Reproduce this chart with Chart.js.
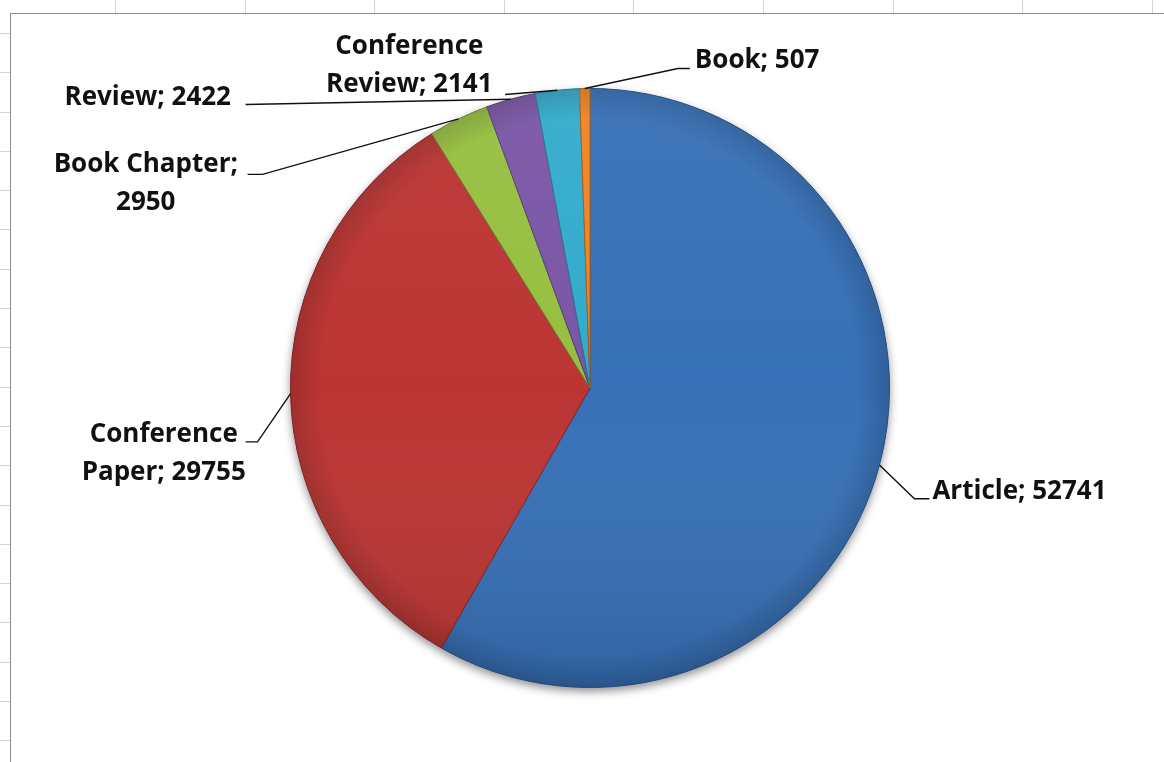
<!DOCTYPE html>
<html>
<head>
<meta charset="utf-8">
<title>Document types</title>
<script src="https://cdn.jsdelivr.net/npm/chart.js@4.4.0/dist/chart.umd.min.js"></script>
<style>
  html, body { margin: 0; padding: 0; background: #fff; }
  body { width: 1164px; height: 762px; position: relative; overflow: hidden; }
  /* faint spreadsheet cells peeking out around the chart frame */
  #cells-top {
    position: absolute; left: 10px; top: 0; width: 1154px; height: 13px;
    background: repeating-linear-gradient(to right, transparent 0, transparent 105px, #d4d4d4 105px, #d4d4d4 106px, transparent 106px, transparent 129.6px);
  }
  #cells-left {
    position: absolute; left: 0; top: 0; width: 10px; height: 762px;
    background: repeating-linear-gradient(to bottom, transparent 0, transparent 33px, #d4d4d4 33px, #d4d4d4 34px, transparent 34px, transparent 39.3px);
  }
  #frame {
    position: absolute; left: 10px; top: 13px; right: 0; bottom: 0;
    border-top: 1px solid #8c8c8c; border-left: 1px solid #8c8c8c;
  }
  #pie-doc-types { position: absolute; left: 11px; top: 14px; }
</style>
</head>
<body>
<div id="cells-top"></div>
<div id="cells-left"></div>
<div id="frame"></div>
<canvas id="pie-doc-types" width="1153" height="748"></canvas>
<script>
const categories = ['Article', 'Conference Paper', 'Book Chapter', 'Review', 'Conference Review', 'Book'];
const counts = [52741, 29755, 2950, 2422, 2141, 507];
const sliceColors = ['#3670b6', '#bb3533', '#96bf40', '#7a56a6', '#33abcc', '#ef8422'];

// where each data label sits, in px relative to the pie centre for a 300px radius
// tx/ty = text anchor (first baseline), lx/ly = line end at the label, kx = elbow x
const labelLayout = [
  { tx: 343, ty: 111, align: 'left', lx: 340, ly: 111, kx: 325, breakAt: 0 },
  { tx: -427, ty: 54, align: 'center', lx: -345, ly: 54, kx: -333, breakAt: 1 },
  { tx: -445, ty: -216, align: 'center', lx: -343, ly: -214, kx: -328, breakAt: 2 },
  { tx: -443, ty: -283, align: 'center', lx: -345, ly: -284, breakAt: 0 },
  { tx: -181, ty: -335, align: 'center', lx: -85, ly: -294, breakAt: 1 },
  { tx: 105, ty: -321, align: 'left', lx: 100, ly: -320, kx: 88, breakAt: 0 }
];

function shade(hex, p) {
  var n = parseInt(hex.slice(1), 16);
  var rgb = [(n >> 16) & 255, (n >> 8) & 255, n & 255];
  var t = p < 0 ? 0 : 255;
  var a = Math.abs(p);
  return 'rgb(' + rgb.map((c) => Math.round(c + (t - c) * a)).join(',') + ')';
}

function sliceFill(context) {
  const chart = context.chart;
  const area = chart.chartArea;
  const base = sliceColors[context.dataIndex];
  if (!area) return base;
  const cx = (area.left + area.right) / 2;
  const cy = (area.top + area.bottom) / 2;
  const r = Math.min(area.width, area.height) / 2;
  const g = chart.ctx.createRadialGradient(cx, cy, 0, cx, cy, r);
  g.addColorStop(0, base);
  g.addColorStop(0.9, base);
  g.addColorStop(1, shade(base, -0.15));
  return g;
}

const pieShadow = {
  id: 'pieShadow',
  beforeDatasetsDraw(chart) {
    const arc = chart.getDatasetMeta(0).data[0];
    if (!arc) return;
    const ctx = chart.ctx;
    ctx.save();
    ctx.shadowColor = 'rgba(0,0,0,0.45)';
    ctx.shadowBlur = 10;
    ctx.shadowOffsetY = 4;
    ctx.fillStyle = '#2f5f9c';
    ctx.beginPath();
    ctx.arc(arc.x, arc.y, arc.outerRadius, 0, Math.PI * 2);
    ctx.fill();
    ctx.restore();
  }
};

const pieLabels = {
  id: 'pieLabels',
  afterDatasetsDraw(chart) {
    const ctx = chart.ctx;
    const meta = chart.getDatasetMeta(0);
    const first = meta.data[0];

    // soft top-to-bottom shading over the whole pie
    ctx.save();
    ctx.beginPath();
    ctx.arc(first.x, first.y, first.outerRadius, 0, Math.PI * 2);
    ctx.clip();
    var sh = ctx.createLinearGradient(0, first.y - first.outerRadius, 0, first.y + first.outerRadius);
    sh.addColorStop(0, 'rgba(255,255,255,0.05)');
    sh.addColorStop(0.5, 'rgba(255,255,255,0)');
    sh.addColorStop(1, 'rgba(0,0,0,0.12)');
    ctx.fillStyle = sh;
    ctx.fillRect(first.x - first.outerRadius, first.y - first.outerRadius, first.outerRadius * 2, first.outerRadius * 2);
    ctx.restore();

    meta.data.forEach((arc, i) => {
      const p = arc.getProps(['x', 'y', 'startAngle', 'endAngle', 'outerRadius'], true);
      const mid = (p.startAngle + p.endAngle) / 2;
      const k = p.outerRadius / 300;
      const L = labelLayout[i];
      const rx = p.x + Math.cos(mid) * p.outerRadius;
      const ry = p.y + Math.sin(mid) * p.outerRadius;

      ctx.save();
      ctx.strokeStyle = '#111';
      ctx.lineWidth = 1.4;
      ctx.beginPath();
      ctx.moveTo(rx, ry);
      if (L.kx !== undefined) ctx.lineTo(p.x + L.kx * k, p.y + L.ly * k);
      ctx.lineTo(p.x + L.lx * k, p.y + L.ly * k);
      ctx.stroke();

      var words = (categories[i] + '; ' + counts[i]).split(' ');
      var lines = L.breakAt ? [words.slice(0, L.breakAt).join(' '), words.slice(L.breakAt).join(' ')] : [words.join(' ')];
      ctx.font = 'bold 26px "Open Sans"';
      ctx.fillStyle = '#111';
      ctx.textAlign = L.align;
      ctx.textBaseline = 'alphabetic';
      lines.forEach((line, j) => {
        ctx.fillText(line, p.x + L.tx * k, p.y + L.ty * k + j * 38);
      });
      ctx.restore();
    });
  }
};

new Chart(document.getElementById('pie-doc-types'), {
  type: 'pie',
  data: {
    labels: categories,
    datasets: [{
      label: 'Documents',
      data: counts,
      backgroundColor: sliceFill,
      borderColor: sliceColors.map((c) => shade(c, -0.3)),
      borderWidth: 1,
      hoverOffset: 0
    }]
  },
  options: {
    responsive: false,
    animation: false,
    layout: { padding: { left: 200, right: 195, top: 74, bottom: 74 } },
    plugins: {
      legend: { display: false },
      tooltip: { enabled: false }
    }
  },
  plugins: [pieShadow, pieLabels]
});
</script>
</body>
</html>
